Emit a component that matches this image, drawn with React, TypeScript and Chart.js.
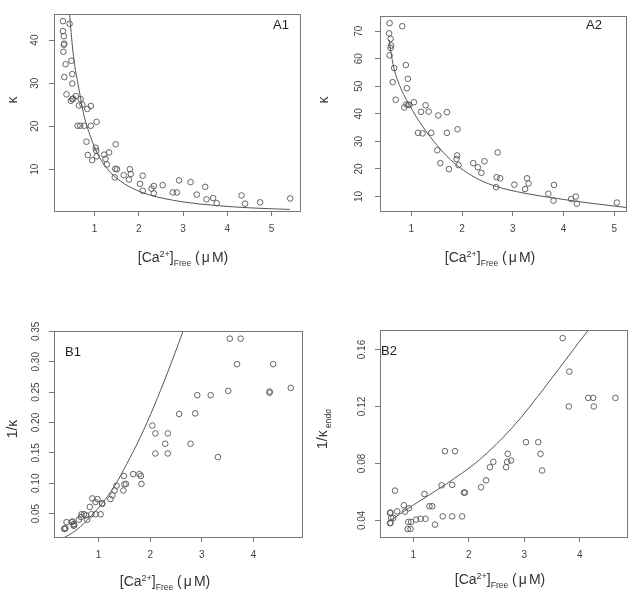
import React, { useEffect, useRef } from "react";
import { Chart, registerables } from "chart.js";

Chart.register(...registerables);

type Pt = [number, number];

// ---------- Panel A1: kappa vs [Ca2+]free ----------
const a1Points: Pt[] = [
  [0.29, 44.4], [0.44, 43.8], [0.29, 42.1], [0.31, 40.9], [0.32, 39.2], [0.31, 38.9], [0.30, 37.3], [0.35, 34.4],
  [0.48, 35.2], [0.50, 32.1], [0.32, 31.4], [0.50, 29.9], [0.37, 27.4], [0.58, 27.0], [0.47, 25.9], [0.50, 26.3],
  [0.52, 26.4], [0.69, 26.3], [0.65, 24.8], [0.73, 25.0], [0.92, 24.7], [0.84, 24.0], [0.62, 20.1], [0.68, 20.1],
  [0.77, 20.1], [0.92, 20.1], [1.05, 21.0], [0.82, 16.4], [0.85, 13.3], [0.95, 12.1], [1.03, 15.0], [1.04, 14.3],
  [1.05, 13.0], [1.22, 13.4], [1.25, 12.4], [1.28, 11.1], [1.33, 13.9], [1.48, 15.8], [1.47, 10.1], [1.51, 10.0],
  [1.46, 8.1], [1.66, 8.6], [1.78, 7.6], [1.80, 10.0], [1.82, 8.9], [2.03, 6.6], [2.09, 8.5], [2.09, 5.0],
  [2.29, 5.5], [2.34, 6.1], [2.34, 4.4], [2.54, 6.3], [2.77, 4.6], [2.86, 4.6], [2.91, 7.4], [3.17, 7.0],
  [3.31, 4.1], [3.50, 5.9], [3.53, 3.0], [3.68, 3.3], [3.76, 2.1], [4.32, 3.9], [4.40, 2.0], [4.74, 2.3], [5.42, 3.2],
];
const a1Curve: Pt[] = [
  [0.43, 47.5], [0.44, 46.0], [0.53, 36.1], [0.65, 28.7], [0.76, 22.7], [0.91, 17.6], [1.06, 13.8], [1.29, 10.1],
  [1.59, 7.2], [1.96, 5.1], [2.25, 4.0], [2.57, 3.2], [3.0, 2.4], [3.76, 1.55], [4.51, 1.02], [5.41, 0.66],
];
const a1XTicks = [1, 2, 3, 4, 5];
const a1YTicks = [10, 20, 30, 40];

// ---------- Panel A2 ----------
const a2Points: Pt[] = [
  [0.57, 72.9], [0.82, 71.8], [0.56, 69.2], [0.59, 67.2], [0.60, 64.8], [0.59, 63.9], [0.57, 61.2], [0.66, 56.6],
  [0.89, 57.7], [0.93, 52.7], [0.63, 51.5], [0.91, 49.3], [0.69, 45.1], [1.05, 44.2], [0.90, 43.4], [0.94, 43.3],
  [0.86, 42.3], [0.96, 43.2], [1.28, 43.1], [1.19, 40.7], [1.34, 40.8], [1.53, 39.4], [1.70, 40.6], [1.91, 34.4],
  [1.13, 33.1], [1.22, 32.9], [1.39, 33.1], [1.70, 33.1], [1.51, 26.8], [1.57, 22.1], [1.74, 19.9], [1.90, 24.9],
  [1.89, 23.6], [1.93, 21.4], [2.22, 22.1], [2.31, 20.6], [2.38, 18.6], [2.44, 22.8], [2.70, 26.0], [2.68, 17.0],
  [2.75, 16.6], [2.67, 13.4], [3.03, 14.3], [3.28, 16.6], [3.31, 14.7], [3.24, 12.7], [3.70, 11.0], [3.81, 14.2],
  [3.80, 8.5], [4.15, 9.1], [4.24, 10.0], [4.26, 7.4], [5.05, 7.8],
];
const a2Curve: Pt[] = [
  [0.56, 66.8], [0.64, 57.8], [0.77, 50.2], [0.97, 42.9], [1.16, 37.1], [1.43, 30.3], [1.69, 24.8], [2.02, 19.6],
  [2.35, 16.0], [2.68, 13.6], [3.2, 11.3], [3.86, 9.3], [4.52, 7.6], [5.24, 6.0],
];
const a2XTicks = [1, 2, 3, 4, 5];
const a2YTicks = [10, 20, 30, 40, 50, 60, 70];

// ---------- Panel B1: 1/kappa ----------
const b1Points: Pt[] = [
  [0.34, 0.0247], [0.34, 0.0252], [0.36, 0.026], [0.38, 0.036], [0.48, 0.036], [0.52, 0.033], [0.52, 0.030],
  [0.53, 0.031], [0.50, 0.037], [0.62, 0.040], [0.66, 0.0445], [0.67, 0.049], [0.72, 0.049], [0.76, 0.047],
  [0.78, 0.040], [0.83, 0.061], [0.86, 0.049], [0.88, 0.075], [0.94, 0.069], [0.98, 0.074], [0.94, 0.049],
  [1.04, 0.049], [1.07, 0.066], [1.07, 0.067], [1.23, 0.074], [1.27, 0.080], [1.31, 0.088], [1.35, 0.096],
  [1.48, 0.088], [1.49, 0.112], [1.50, 0.098], [1.53, 0.099], [1.67, 0.115], [1.79, 0.115], [1.82, 0.112],
  [1.83, 0.099], [2.04, 0.195], [2.10, 0.182], [2.10, 0.149], [2.29, 0.165], [2.34, 0.182], [2.34, 0.149],
  [2.56, 0.214], [2.87, 0.215], [2.91, 0.245], [2.78, 0.165], [3.17, 0.245], [3.31, 0.143], [3.51, 0.252],
  [3.54, 0.338], [3.75, 0.338], [3.68, 0.296], [4.31, 0.251], [4.31, 0.249], [4.38, 0.296], [4.72, 0.257],
];
const b1Curve: Pt[] = [
  [0.30, 0.009], [0.52, 0.0198], [0.78, 0.039], [1.04, 0.0638], [1.30, 0.094], [1.55, 0.1325], [1.81, 0.176],
  [2.07, 0.226], [2.33, 0.281], [2.62, 0.347], [2.66, 0.357],
];
const b1XTicks = [1, 2, 3, 4];
const b1YTicks = [0.05, 0.1, 0.15, 0.2, 0.25, 0.3, 0.35];

// ---------- Panel B2: 1/kappa_endo ----------
const b2Points: Pt[] = [
  [0.58, 0.0452], [0.59, 0.0455], [0.58, 0.038], [0.59, 0.0383], [0.60, 0.0417], [0.64, 0.0417], [0.67, 0.0609],
  [0.71, 0.0463], [0.83, 0.0506], [0.85, 0.0461], [0.92, 0.0485], [0.91, 0.0389], [0.96, 0.0389], [0.90, 0.0339],
  [0.95, 0.0339], [1.05, 0.0405], [1.13, 0.0411], [1.22, 0.0411], [1.20, 0.0585], [1.29, 0.0499], [1.34, 0.0499],
  [1.39, 0.0370], [1.51, 0.0646], [1.53, 0.0428], [1.57, 0.0886], [1.70, 0.0649], [1.70, 0.0428], [1.75, 0.0886],
  [1.88, 0.0428], [1.91, 0.0595], [1.93, 0.0595], [2.22, 0.0632], [2.31, 0.0681], [2.38, 0.0773], [2.44, 0.0811],
  [2.67, 0.0773], [2.69, 0.0811], [2.70, 0.0867], [2.76, 0.0820], [3.03, 0.0949], [3.25, 0.0949], [3.29, 0.0867],
  [3.32, 0.0750], [3.69, 0.168], [3.81, 0.1445], [3.80, 0.120], [4.15, 0.1260], [4.24, 0.1260], [4.25, 0.120],
  [4.64, 0.1260],
];
const b2Curve: Pt[] = [
  [0.55, 0.039], [0.99, 0.0505], [1.59, 0.0655], [2.19, 0.0825], [2.79, 0.1055], [3.39, 0.1345], [3.98, 0.165],
  [4.22, 0.177],
];
const b2XTicks = [1, 2, 3, 4];
const b2YTicks = [0.04, 0.08, 0.12, 0.16];

const FONT = "'Liberation Sans', Arial, Helvetica, sans-serif";
const AXIS_COLOR = "#777";

interface PanelProps {
  left: number;
  top: number;
  width: number;
  height: number;
  area: { l: number; t: number; r: number; b: number };
  xRange: [number, number];
  yRange: [number, number];
  xTicks: number[];
  yTicks: number[];
  points: Pt[];
  curve: Pt[];
  yPad: number;
  decimals: number;
}

function Panel(p: PanelProps) {
  const ref = useRef<HTMLCanvasElement>(null);
  useEffect(() => {
    const frame = {
      id: "frame",
      afterDatasetsDraw(chart: any) {
        const { ctx, chartArea: a } = chart;
        ctx.save();
        ctx.strokeStyle = AXIS_COLOR;
        ctx.lineWidth = 1;
        ctx.strokeRect(
          Math.round(a.left) + 0.5,
          Math.round(a.top) + 0.5,
          Math.round(a.right - a.left),
          Math.round(a.bottom - a.top)
        );
        ctx.restore();
      },
    };
    const chart = new Chart(ref.current as HTMLCanvasElement, {
      type: "scatter",
      data: {
        datasets: [
          {
            data: p.points.map(([x, y]) => ({ x, y })),
            pointStyle: "circle",
            pointRadius: 2.8,
            pointBorderWidth: 0.9,
            pointBorderColor: "#555",
            pointBackgroundColor: "rgba(0,0,0,0)",
            showLine: false,
          },
          {
            data: p.curve.map(([x, y]) => ({ x, y })),
            showLine: true,
            borderColor: "#555",
            borderWidth: 1,
            pointRadius: 0,
            cubicInterpolationMode: "monotone",
            fill: false,
          } as any,
        ],
      },
      options: {
        responsive: false,
        animation: false,
        events: [],
        plugins: { legend: { display: false }, tooltip: { enabled: false } },
        layout: { padding: { left: 0, top: p.area.t, right: p.width - p.area.r, bottom: 0 } },
        scales: {
          x: {
            type: "linear",
            min: p.xRange[0],
            max: p.xRange[1],
            afterBuildTicks: (s: any) => {
              s.ticks = p.xTicks.map((v) => ({ value: v }));
            },
            afterFit: (s: any) => {
              s.height = p.height - p.area.b;
            },
            ticks: {
              autoSkip: false,
              minRotation: 0,
              maxRotation: 0,
              padding: 7,
              color: "#444",
              font: { family: FONT, size: 10 },
              callback: (v: any) => String(v),
            },
            grid: { drawOnChartArea: false, drawTicks: true, tickLength: 5, color: AXIS_COLOR },
            border: { display: false },
          },
          y: {
            type: "linear",
            min: p.yRange[0],
            max: p.yRange[1],
            afterBuildTicks: (s: any) => {
              s.ticks = p.yTicks.map((v) => ({ value: v }));
            },
            afterFit: (s: any) => {
              s.width = p.area.l;
            },
            ticks: {
              autoSkip: false,
              minRotation: 90,
              maxRotation: 90,
              crossAlign: "center",
              padding: p.yPad,
              color: "#444",
              font: { family: FONT, size: 10 },
              callback: (v: any) => Number(v).toFixed(p.decimals),
            },
            grid: { drawOnChartArea: false, drawTicks: true, tickLength: 5, color: AXIS_COLOR },
            border: { display: false },
          },
        },
      },
      plugins: [frame],
    } as any);
    return () => chart.destroy();
  }, []);
  return (
    <canvas
      ref={ref}
      width={p.width}
      height={p.height}
      style={{ position: "absolute", left: p.left, top: p.top, width: p.width, height: p.height }}
    />
  );
}

const textBase: React.CSSProperties = {
  position: "absolute",
  fontFamily: FONT,
  color: "#333",
  whiteSpace: "nowrap",
  lineHeight: 1,
  transform: "translate(-50%, -50%)",
};

function XTitle({ x, y }: { x: number; y: number }) {
  return (
    <div style={{ ...textBase, left: x, top: y, fontSize: 14 }}>
      [Ca<sup style={{ fontSize: 9, verticalAlign: "5px" }}>2+</sup>]
      <sub style={{ fontSize: 8.5, verticalAlign: "-4px" }}>Free</sub> (<span style={{ margin: "0 2px" }}>μ</span>M)
    </div>
  );
}

function YTitle({ x, y, children }: { x: number; y: number; children: React.ReactNode }) {
  return (
    <div style={{ ...textBase, left: x, top: y, fontSize: 14, transform: "translate(-50%, -50%) rotate(-90deg)" }}>
      {children}
    </div>
  );
}

function Label({ x, y, text }: { x: number; y: number; text: string }) {
  return <div style={{ ...textBase, left: x, top: y, fontSize: 13, color: "#222" }}>{text}</div>;
}

export default function App() {
  return (
    <div style={{ position: "absolute", left: 0, top: 0, width: 632, height: 593, background: "#fff", overflow: "hidden" }}>
      <Panel
        left={0} top={0} width={316} height={296}
        area={{ l: 54, t: 5, r: 300, b: 211 }}
        xRange={[0.088, 5.64]} yRange={[0.29, 46.07]}
        xTicks={a1XTicks} yTicks={a1YTicks}
        points={a1Points} curve={a1Curve} yPad={8} decimals={0}
      />
      <Panel
        left={316} top={0} width={316} height={296}
        area={{ l: 64, t: 5, r: 310, b: 211 }}
        xRange={[0.381, 5.23]} yRange={[4.74, 75.5]}
        xTicks={a2XTicks} yTicks={a2YTicks}
        points={a2Points} curve={a2Curve} yPad={10} decimals={0}
      />
      <Panel
        left={0} top={296} width={316} height={297}
        area={{ l: 54, t: 35, r: 302, b: 241 }}
        xRange={[0.138, 4.937]} yRange={[0.0115, 0.3506]}
        xTicks={b1XTicks} yTicks={b1YTicks}
        points={b1Points} curve={b1Curve} yPad={3} decimals={2}
      />
      <Panel
        left={316} top={296} width={316} height={297}
        area={{ l: 64, t: 34, r: 312, b: 241 }}
        xRange={[0.4, 4.85]} yRange={[0.0283, 0.1737]}
        xTicks={b2XTicks} yTicks={b2YTicks}
        points={b2Points} curve={b2Curve} yPad={3} decimals={2}
      />

      <XTitle x={183} y={259} />
      <XTitle x={490} y={259} />
      <XTitle x={165} y={583} />
      <XTitle x={500} y={581} />

      <YTitle x={12} y={100}>κ</YTitle>
      <YTitle x={323} y={100}>κ</YTitle>
      <YTitle x={12} y={429}>1/κ</YTitle>
      <YTitle x={324} y={429}>
        1/κ<sub style={{ fontSize: 8.5, verticalAlign: "-4px" }}> endo</sub>
      </YTitle>

      <Label x={281} y={24} text="A1" />
      <Label x={594} y={24} text="A2" />
      <Label x={73} y={351} text="B1" />
      <Label x={389} y={350} text="B2" />
    </div>
  );
}
